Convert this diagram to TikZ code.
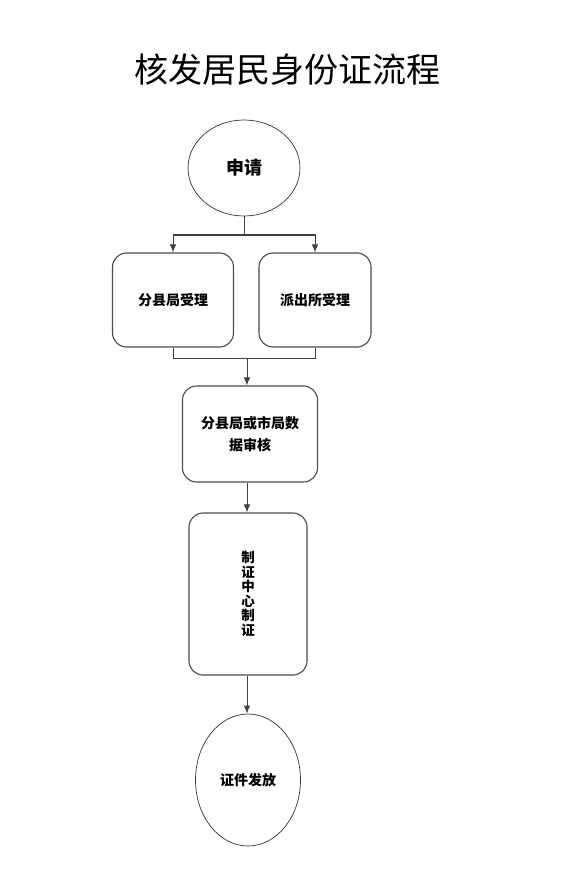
\documentclass[tikz,border=0pt]{standalone}
\usepackage{fontspec}
\newfontfamily\cjk{Noto Sans CJK SC}
\usetikzlibrary{arrows.meta,shapes.geometric}

\tikzset{
  roundbox/.style={draw=black!70, line width=1.1pt, rounded corners=14pt, fill=white, align=center, font=\cjk\bfseries\fontsize{14}{22}\selectfont},
  oval/.style={draw=black!80, line width=0.7pt, ellipse, inner sep=0pt, font=\cjk\bfseries},
  flow/.style={draw=black!75, line width=1pt},
  tip/.style={-{Latex[length=8pt,width=6.5pt]}},
}

\begin{document}
\begin{tikzpicture}[x=1pt,y=-1pt]
\useasboundingbox (0,0) rectangle (565,893);

\node (title) at (287,70) {\cjk\fontsize{34}{34}\selectfont 核发居民身份证流程};

\node[oval, minimum width=112pt, minimum height=96pt, font=\cjk\bfseries\fontsize{18}{18}\selectfont] (apply) at (244,168) {申请};

\node[roundbox, minimum width=121pt, minimum height=94pt] (county) at (173,300) {分县局受理};
\node[roundbox, minimum width=112pt, minimum height=94pt] (police) at (315,300) {派出所受理};

\node[roundbox, minimum width=135pt, minimum height=96pt] (check) at (250,434) {分县局或市局数\\据审核};

\node[roundbox, minimum width=118pt, minimum height=162pt, font=\cjk\bfseries\fontsize{13.5}{14.5}\selectfont] (make) at (248,594) {制\\证\\中\\心\\制\\证};

\node[oval, minimum width=105pt, minimum height=132pt, font=\cjk\bfseries\fontsize{14}{14}\selectfont] (issue) at (248,780) {证件发放};

% branch out
\coordinate (split) at (244,235);
\draw[flow] (apply.south) -- (split);
\draw[flow, tip] (split) -| (county.north);
\draw[flow, tip] (split) -| (police.north);

% join again
\coordinate (join) at (247,358);
\draw[flow] (county.south) |- (join);
\draw[flow] (police.south) |- (join);
\draw[flow, tip] (join) -- (join |- check.north);

\draw[flow, tip] (check.south -| join) -- (join |- make.north);
\draw[flow, tip] (make.south -| join) -- (join |- issue.north);
\end{tikzpicture}
\end{document}
